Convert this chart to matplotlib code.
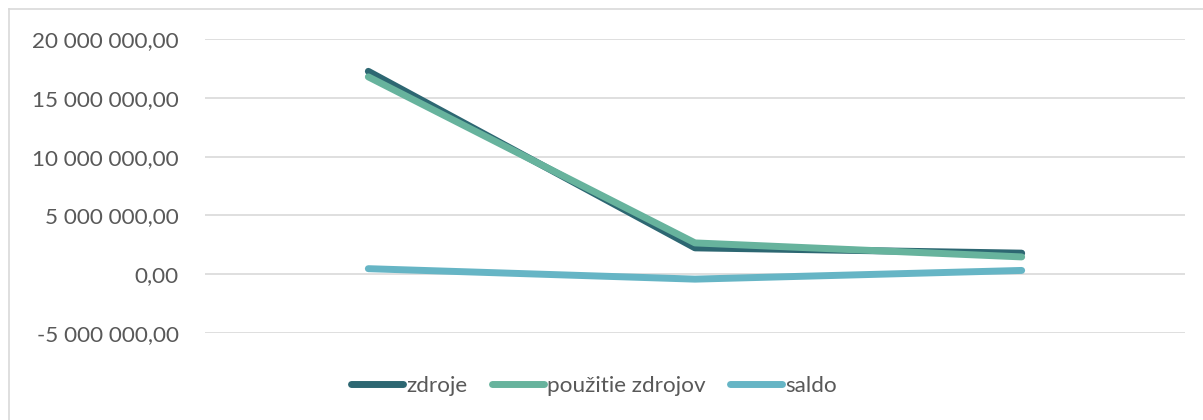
import matplotlib.pyplot as plt
from matplotlib.ticker import FuncFormatter

# values
categories = ["1", "2", "3"]
zdroje = [17250000, 2240000, 1790000]
pouzitie = [16780000, 2660000, 1470000]
saldo = [470000, -420000, 320000]

series_names = ["zdroje", "použitie zdrojov", "saldo"]
colors = ["#2D6772", "#67B39D", "#66B5C5"]


def fmt(v, pos):
    s = f"{abs(v):,.2f}".replace(",", " ").replace(".", ",")
    return ("-" if v < 0 else "") + s


plt.rcParams['font.family'] = ['Lato', 'DejaVu Sans']

fig = plt.figure(figsize=(12.03, 4.2), dpi=100)
ax = fig.add_axes([205 / 1203, 1 - 333 / 420, 980 / 1203, 294 / 420])

x = range(len(categories))
for vals, name, c in zip([zdroje, pouzitie, saldo], series_names, colors):
    ax.plot(x, vals, color=c, lw=5, solid_capstyle='round',
            solid_joinstyle='round', label=name)

ax.set_xlim(-0.5, 2.5)
ax.set_ylim(-5000000, 20000000)
ax.set_yticks(range(-5000000, 20000001, 5000000))
ax.yaxis.set_major_formatter(FuncFormatter(fmt))
ax.set_xticks([])
ax.grid(axis='y', color='#D9D9D9', lw=1.2)
ax.set_axisbelow(True)
for sp in ax.spines.values():
    sp.set_visible(False)
ax.tick_params(axis='y', length=0, pad=19, labelsize=16.2, labelcolor='#595959')

leg = fig.legend(loc='center', bbox_to_anchor=(594 / 1203, 1 - 386 / 420), ncol=3,
                 frameon=False, fontsize=16.2, handlelength=2.3,
                 handletextpad=0.15, columnspacing=1.1)
for t in leg.get_texts():
    t.set_color('#595959')
for ln in leg.get_lines():
    ln.set_solid_capstyle('round')

# chart frame: only its left and top edges fall inside the picture
fig.add_artist(plt.Line2D([9 / 1203, 9 / 1203], [0, 1 - 9 / 420], color='#D9D9D9', lw=1.2))
fig.add_artist(plt.Line2D([9 / 1203, 1], [1 - 9 / 420, 1 - 9 / 420], color='#D9D9D9', lw=1.2))

fig.savefig("out.png", dpi=100)
